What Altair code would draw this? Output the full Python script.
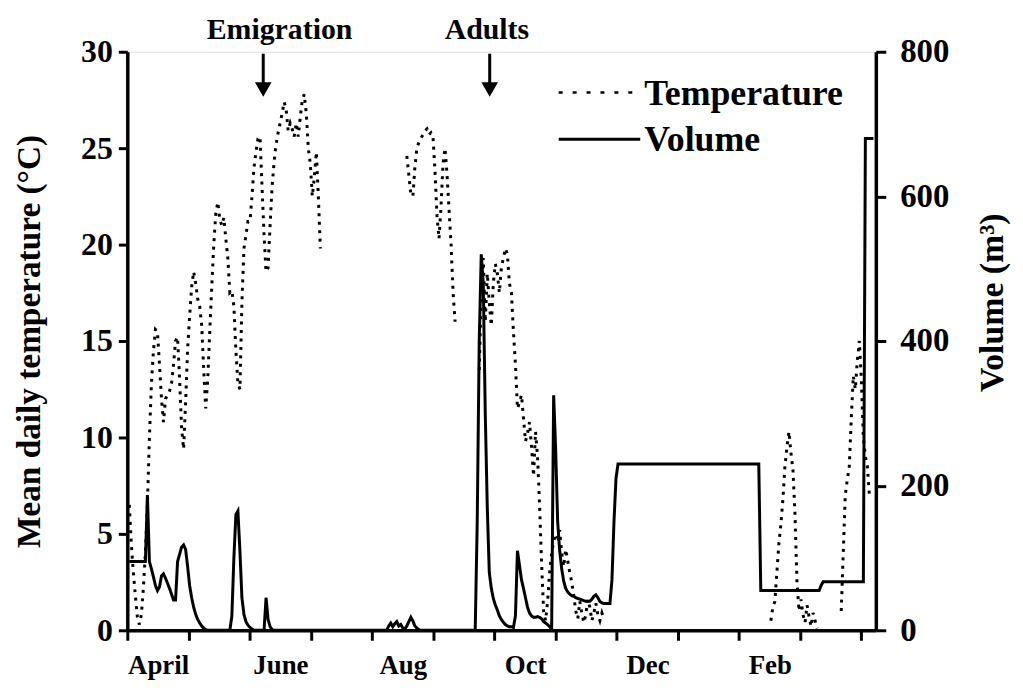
import altair as alt
import pandas as pd

# ---------------- data ----------------
# x = day counted from 1 April (12 equal "months" of 30.42 days on the axis)
month_ticks = [0, 30.42, 60.83, 91.25, 121.67, 152.08, 182.5, 212.92, 243.33,
               273.75, 304.17, 334.58, 365]
month_labels = ["April", "", "June", "", "Aug", "", "Oct", "", "Dec", "", "Feb", "", ""]

# Mean daily temperature (deg C), split in recorded runs
temp_run1_start = 1
temp_run1 = [6.5, 4.5, 3.0, 1.8, 0.7, 0.3, 0.8, 2.2, 4.0, 6.5,
             10.0, 12.8, 14.5, 15.6, 15.5, 13.8, 12.0, 10.8, 12.0, 12.2,
             12.4, 12.8, 13.8, 15.0, 15.2, 13.0, 10.5, 9.4, 11.8, 14.6,
             16.3, 17.8, 18.6, 18.0, 17.2, 16.8, 15.8, 13.5, 11.5, 13.0,
             15.5, 17.8, 20.0, 21.6, 22.2, 21.3, 21.0, 21.4, 20.3, 19.3,
             17.5, 17.6, 16.8, 14.5, 12.8, 12.5, 17.0, 19.8, 20.5, 21.2,
             21.2, 22.5, 24.0, 24.8, 25.5, 25.6, 23.0, 20.5, 18.6, 18.8,
             21.0, 23.0, 24.3, 25.2, 25.8, 26.3, 26.8, 27.4, 27.0, 25.9,
             26.3, 26.0, 25.6, 26.3, 25.6, 26.6, 27.5, 27.8, 26.8, 25.0,
             24.2, 22.5, 23.5, 24.8, 22.5, 19.8]
temp_run2_start = 139
temp_run2 = [24.6, 23.6, 22.6, 22.5, 24.0, 25.0, 25.3, 25.5, 25.7, 25.9,
             26.0, 25.7, 25.8, 25.6, 23.8, 21.5, 20.3, 22.0, 24.2, 25.0,
             23.6, 21.8, 20.0, 17.5, 16.0]
temp_run3_start = 175
temp_run3 = [13.5, 17.5, 19.3, 16.0, 18.5, 17.0, 15.8, 18.0, 19.0, 18.5,
             17.5, 18.8, 19.3, 19.8, 19.5, 18.0, 17.5, 15.5, 13.8, 11.5,
             11.8, 12.2, 11.0, 9.8, 10.2, 10.8, 9.5, 8.0, 10.3, 9.0,
             6.5, 3.5, 1.0, 0.5, 1.5, 3.0, 4.0, 4.6, 5.0, 4.8,
             5.2, 4.0, 3.3, 4.2, 3.6, 3.0, 2.5, 1.8, 1.0, 0.6,
             1.5, 0.9, 0.4, 0.8, 1.6, 1.2, 0.5, 0.9, 1.4, 0.8,
             0.5, 0.9, 0.6]
temp_run4_start = 320
temp_run4 = [0.5, 1.2, 1.5, 3.0, 4.5, 5.5, 6.8, 8.5, 9.5, 10.3,
             9.2, 8.3, 6.0, 2.5, 1.0, 1.6, 0.8, 0.4, 1.3, 0.7,
             0.2, 0.9, 0.5, 0.1]
temp_run5_start = 355
temp_run5 = [1.0, 4.0, 7.0, 7.8, 8.5, 11.0, 13.2, 12.5, 14.0, 15.0,
             13.0, 10.0, 9.0, 8.5, 7.0]

# Volume (m3)
vol_days = [1, 9, 10, 11, 12, 13, 14, 15, 16, 17, 18, 19, 20, 21, 22, 23, 24, 25,
            26, 27, 28, 29, 30, 31, 32, 33, 34, 35, 36, 37, 38, 39, 40,
            51, 52, 53, 54, 55, 56, 57, 58, 59, 60, 61, 62, 63,
            68, 69, 70, 71, 72, 73,
            129, 130, 131, 132, 133, 134, 135, 136, 137, 138, 139, 140, 141,
            142, 143, 144, 145, 146,
            173, 174, 175, 176, 177, 178, 179, 180, 181, 182, 183, 184, 185,
            186, 187, 188, 189, 190, 191, 192, 193, 194, 195, 196, 197, 198,
            199, 200, 201, 202, 203, 204, 205, 206, 207, 208, 209, 210, 211,
            212, 213, 214, 215, 216, 217, 218, 219, 220, 221, 222, 223, 224,
            225, 226, 227, 228, 229, 230, 231, 232, 233, 234, 235, 236, 237,
            238, 239, 240, 241, 242, 243, 244,
            314, 315, 344, 345, 346, 366, 367, 371]
vol_values = [95, 95, 187, 95, 85, 74, 62, 55, 60, 75, 78, 72, 65, 58, 50, 42, 42, 95,
              105, 115, 118, 112, 88, 62, 45, 32, 22, 15, 10, 6, 3, 1, 0,
              0, 20, 100, 160, 165, 110, 45, 22, 12, 7, 4, 2, 0,
              0, 45, 15, 5, 1, 0,
              0, 6, 10, 5, 9, 12, 6, 8, 3, 2, 6, 12, 18,
              13, 6, 3, 1, 0,
              0, 150, 400, 520, 480, 300, 170, 80, 58, 44, 35, 28, 20,
              15, 11, 8, 6, 5, 5, 4, 20, 110, 90, 70, 58, 45,
              32, 24, 20, 18, 18, 19, 18, 16, 12, 10, 8, 5, 2,
              325, 250, 150, 110, 85, 68, 58, 53, 50, 48, 47, 45, 44,
              43, 42, 41, 40, 40, 40, 43, 47, 49, 45, 40, 38, 37,
              37, 37, 37, 70, 150, 210, 230,
              230, 55, 55, 62, 67, 67, 680, 680]

series_names = ["Temperature", "Volume"]
events = ["Emigration", "Adults"]
event_days = [67.6, 180.2]        # arrow positions
event_label_days = [75.7, 178.8]  # label centres

# ---------------- tables ----------------
rows = []
for run, (start, vals) in enumerate([(temp_run1_start, temp_run1), (temp_run2_start, temp_run2),
                                      (temp_run3_start, temp_run3), (temp_run4_start, temp_run4),
                                      (temp_run5_start, temp_run5)]):
    for i, v in enumerate(vals):
        rows.append({"day": start + i, "temp": v, "run": run})
temp_df = pd.DataFrame(rows)
vol_df = pd.DataFrame({"day": vol_days, "vol": vol_values})

FONT = "Liberation Serif"
label_expr = "[" + ",".join("'%s'" % m for m in month_labels) + "][round(datum.value/30.4167)]"

x_enc = alt.X("day:Q",
              scale=alt.Scale(domain=[0, 372.2], nice=False, zero=False),
              axis=alt.Axis(values=month_ticks, labelExpr=label_expr, title=None,
                            labelOffset=31, labelFlush=False, labelAlign="center",
                            tickSize=10, tickWidth=3, domainWidth=3.5,
                            labelPadding=12, labelFontSize=27, labelFont=FONT,
                            labelFontWeight="bold", grid=False, labelColor="black",
                            tickColor="black", domainColor="black"))

temp_line = alt.Chart(temp_df).mark_line(
    color="black", strokeWidth=3, strokeDash=[3, 5.5]
).encode(
    x=x_enc,
    y=alt.Y("temp:Q", scale=alt.Scale(domain=[0, 30], nice=False),
            axis=alt.Axis(values=[0, 5, 10, 15, 20, 25, 30], title="Mean daily temperature (°C)",
                          tickSize=9, tickWidth=3, domainWidth=3.5, labelPadding=6,
                          labelFontSize=32, labelFont=FONT, labelFontWeight="bold",
                          titleFont=FONT, titleFontSize=33.5, titleFontWeight="bold",
                          titlePadding=34, grid=False, labelColor="black", titleColor="black",
                          tickColor="black", domainColor="black")),
    detail="run:N"
)

vol_line = alt.Chart(vol_df).mark_line(color="black", strokeWidth=3).encode(
    x=x_enc,
    y=alt.Y("vol:Q", scale=alt.Scale(domain=[0, 800], nice=False),
            axis=alt.Axis(orient="right", values=[0, 200, 400, 600, 800], title="Volume (m³)",
                          tickSize=10, tickWidth=3, domainWidth=3.5, labelPadding=14,
                          labelFontSize=33, labelFont=FONT, labelFontWeight="bold",
                          titleFont=FONT, titleFontSize=34, titleFontWeight="bold",
                          titleAngle=-90, titleBaseline="top", titleY=252,
                          titlePadding=27, grid=False, labelColor="black", titleColor="black",
                          tickColor="black", domainColor="black"))
)

# legend
leg_temp_line = alt.Chart(pd.DataFrame({"s": [series_names[0]]})).mark_rule(
    color="black", strokeWidth=2.5, strokeDash=[4, 10]
).encode(x=alt.value(434), x2=alt.value(517), y=alt.value(41))
leg_vol_line = alt.Chart(pd.DataFrame({"s": [series_names[1]]})).mark_rule(
    color="black", strokeWidth=3
).encode(x=alt.value(434), x2=alt.value(516), y=alt.value(88))
leg_temp_text = alt.Chart(pd.DataFrame({"s": [series_names[0]]})).mark_text(
    align="left", baseline="alphabetic", font=FONT, fontSize=36, fontWeight="bold", color="black"
).encode(x=alt.value(520), y=alt.value(54), text="s:N")
leg_vol_text = alt.Chart(pd.DataFrame({"s": [series_names[1]]})).mark_text(
    align="left", baseline="alphabetic", font=FONT, fontSize=36, fontWeight="bold", color="black"
).encode(x=alt.value(520), y=alt.value(100), text="s:N")

# annotations
ev_df = pd.DataFrame({"event": events, "day": event_days, "label_day": event_label_days})
ev_text = alt.Chart(ev_df).mark_text(
    baseline="middle", font=FONT, fontSize=30, fontWeight="bold", color="black"
).encode(x="label_day:Q", y=alt.value(-22), text="event:N")
ev_shaft = alt.Chart(ev_df).mark_rule(color="black", strokeWidth=3).encode(
    x="day:Q", y=alt.value(2), y2=alt.value(34))
ev_head = alt.Chart(ev_df).mark_point(
    shape="triangle-down", filled=True, color="black", size=280, opacity=1
).encode(x="day:Q", y=alt.value(38))

chart = alt.layer(
    temp_line, vol_line,
    leg_temp_line, leg_vol_line, leg_temp_text, leg_vol_text,
    ev_text, ev_shaft, ev_head
).resolve_scale(y="independent").properties(
    width=753, height=582,
    autosize=alt.AutoSizeParams(type="none"),
    padding={"left": 120, "top": 42, "right": 140, "bottom": 50}
).configure_view(stroke=None).configure(background="white")

chart.save("out.html", embed_options={"renderer": "svg", "actions": False})
